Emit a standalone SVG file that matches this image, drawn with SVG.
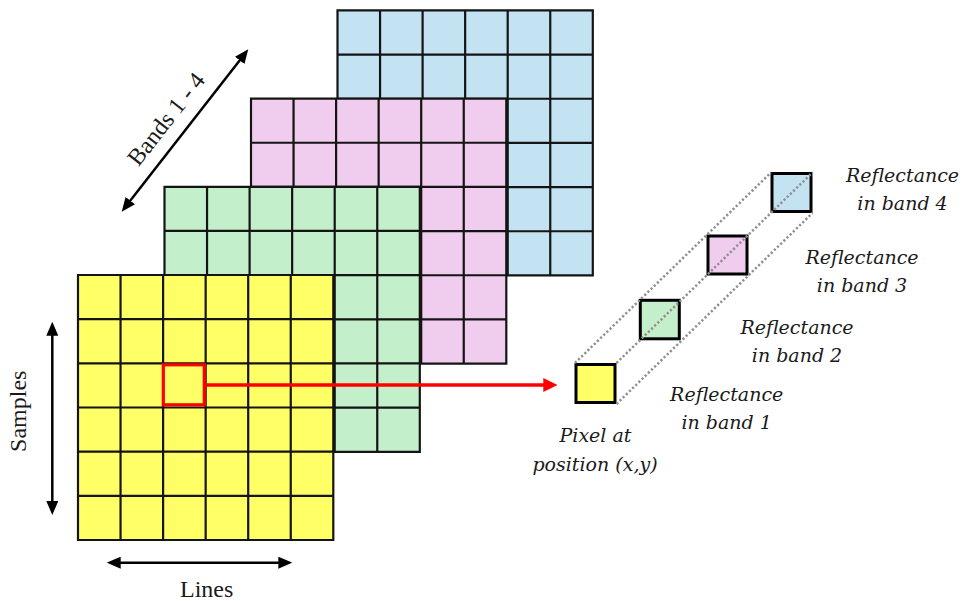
<svg xmlns="http://www.w3.org/2000/svg" xmlns:xlink="http://www.w3.org/1999/xlink" width="966" height="601" viewBox="0 0 966 601">
<style>
.grid{fill:none;stroke:#141414;stroke-width:2.2}
.px{stroke:#000;stroke-width:3}
.dot{fill:none;stroke:#8f8f8f;stroke-width:2.5;stroke-dasharray:2.2 2.2}
.lab{font-family:"DejaVu Serif","Liberation Serif",serif;font-style:italic;font-size:19px;fill:#1a1a1a;text-anchor:middle}
.axis{font-family:"Liberation Serif","Times New Roman",serif;font-size:24px;fill:#1a1a1a;text-anchor:middle}
.arr{fill:none;stroke:#000;stroke-width:2.5}
.red{fill:none;stroke:#ff0000}
</style>
<defs>
<path id="gridlines" class="grid" d="M0,0H255.3V265H0Z M42.55,0V265 M85.1,0V265 M127.65,0V265 M170.2,0V265 M212.75,0V265 M0,44.17H255.3 M0,88.33H255.3 M0,132.5H255.3 M0,176.67H255.3 M0,220.83H255.3"/>
<marker id="ah" viewBox="0 0 14 12" refX="4" refY="6" markerWidth="14" markerHeight="12" markerUnits="userSpaceOnUse" orient="auto-start-reverse"><path d="M0,0L14,6L0,12Z" fill="#000"/></marker>
<marker id="ahr" viewBox="0 0 14 14" refX="4" refY="7" markerWidth="14" markerHeight="14" markerUnits="userSpaceOnUse" orient="auto"><path d="M0,0L14,7L0,14Z" fill="#ff0000"/></marker>
</defs>

<g id="band4-layer" transform="translate(337.5,10.4)"><rect width="255.3" height="265" fill="#c3e3f3"/><use xlink:href="#gridlines"/></g>
<g id="band3-layer" transform="translate(251,98.6)"><rect width="255.3" height="265" fill="#f0cdee"/><use xlink:href="#gridlines"/></g>
<g id="band2-layer" transform="translate(164.5,186.8)"><rect width="255.3" height="265" fill="#c4efcb"/><use xlink:href="#gridlines"/></g>
<g id="band1-layer" transform="translate(78,275)"><rect width="255.3" height="265" fill="#ffff66"/><use xlink:href="#gridlines"/></g>

<g id="selected-pixel"><rect class="red" x="163.3" y="364.8" width="41" height="40" stroke-width="3.2"/></g>

<g id="pixel-band1"><rect class="px" x="576" y="364.5" width="39" height="38" fill="#ffff66"/></g>
<g id="pixel-band2"><rect class="px" x="640.3" y="300.3" width="39" height="38.5" fill="#c4efcb"/></g>
<g id="pixel-band3"><rect class="px" x="708" y="236" width="39" height="38" fill="#f0cdee"/></g>
<g id="pixel-band4"><rect class="px" x="772" y="173.5" width="39" height="38" fill="#c3e3f3"/></g>

<g id="connectors">
<path class="dot" d="M575,363 L771,172.5"/>
<path class="dot" d="M616.5,363 L812.5,172.5"/>
<path class="dot" d="M616.5,404 L812.5,213"/>
<path class="red" stroke-width="3.5" d="M205.5,385 L547.3,385" marker-end="url(#ahr)"/>
<path class="arr" d="M127.85,203.8 L242.15,57.2" marker-start="url(#ah)" marker-end="url(#ah)"/>
<path class="arr" d="M52.3,331.7 L52.3,505" marker-start="url(#ah)" marker-end="url(#ah)"/>
<path class="arr" d="M116.7,562.7 L282.3,562.7" marker-start="url(#ah)" marker-end="url(#ah)"/>
</g>

<g id="labels">
<text class="axis" transform="translate(172.4,123.9) rotate(-52)">Bands 1 - 4</text>
<text class="axis" transform="translate(26,411.3) rotate(-90)">Samples</text>
<text class="axis" x="206.7" y="597">Lines</text>
<text class="lab" x="902.5" y="182">Reflectance</text>
<text class="lab" x="902.5" y="210">in band 4</text>
<text class="lab" x="862" y="264">Reflectance</text>
<text class="lab" x="862" y="292">in band 3</text>
<text class="lab" x="797" y="334">Reflectance</text>
<text class="lab" x="797" y="362">in band 2</text>
<text class="lab" x="726.7" y="401">Reflectance</text>
<text class="lab" x="726.7" y="429">in band 1</text>
<text class="lab" x="595.5" y="442">Pixel at</text>
<text class="lab" x="595" y="471">position (x,y)</text>
</g>
</svg>
